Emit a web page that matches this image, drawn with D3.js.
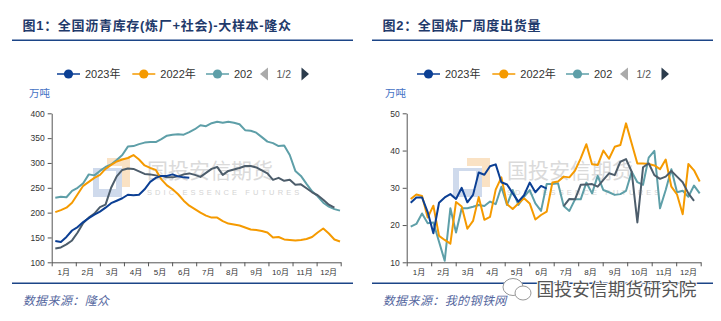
<!DOCTYPE html>
<html>
<head>
<meta charset="utf-8">
<script src="https://cdn.jsdelivr.net/npm/d3@7"></script>
<style>
  body { margin: 0; background: #fff; }
  text { font-family: "Liberation Sans", "Noto Sans CJK SC", sans-serif; }
</style>
</head>
<body>
<script>
// ---------------------------------------------------------------- data
const months = ['1月', '2月', '3月', '4月', '5月', '6月', '7月', '8月', '9月', '10月', '11月', '12月']
const legendNames = ['2023年', '2022年', '202']
const seriesColors = ['#0b3f94', '#f59a00', '#5e9fa8', '#4d5d6b']

// 图1 沥青库存 (万吨), weekly
const stockTicks = [100, 150, 200, 250, 300, 350, 400]
const stock2023 = [143, 141, 151, 164, 171, 181, 189, 196, 202, 210, 219, 224, 229, 236, 235, 236, 247, 262, 270, 274, 274, 277, 273, 271, 270]
const stock2022 = [201, 205, 210, 220, 237, 254, 262, 270, 276, 288, 296, 303, 307, 310, 316, 307, 295, 290, 286, 267,
    255, 247, 237, 224, 214, 207, 200, 194, 190, 190, 183, 178, 176, 174, 170, 166, 165, 163, 160, 150,
    151, 146, 145, 144, 145, 147, 151, 160, 168, 158, 146, 142]
const stockTeal = [230, 232, 231, 244, 250, 259, 277, 275, 284, 292, 297, 306, 316, 333, 334, 338, 341, 342, 342, 348,
    355, 357, 358, 357, 362, 368, 376, 374, 380, 383, 381, 383, 381, 378, 366, 365, 361, 352, 343, 340,
    334, 335, 316, 284, 274, 258, 243, 233, 220, 212, 207, 204]
const stockGrey = [128, 130, 136, 144, 160, 179, 190, 198, 211, 216, 250, 273, 286, 289, 288, 283, 278, 277, 275, 274,
    271, 271, 273, 277, 279, 276, 272, 280, 288, 292, 276, 284, 287, 290, 294, 294, 291, 285, 279, 266,
    270, 264, 266, 256, 257, 249, 241, 235, 226, 216, 210]

// 图2 炼厂出货量 (万吨), weekly
const shipTicks = [10, 20, 30, 40, 50]
const ship2023 = [26.0, 27.4, 27.4, 23.5, 17.8, 26.0, 27.4, 28.3, 27.0, 30.0, 26.1, 28.1, 34.1, 33.5, 35.8, 36.3, 31.5, 30.9, 28.5, 26.3,
    28.0, 31.4, 28.8, 30.5, 29.8]
const ship2022 = [27.0, 28.2, 27.8, 22.0, 25.2, 17.1, 16.0, 15.0, 26.2, 25.0, 19.0, 21.1, 27.5, 21.4, 22.2, 29.5, 32.8, 25.6, 24.3, 25.8,
    27.2, 25.8, 21.5, 22.7, 23.6, 31.4, 31.7, 33.0, 32.8, 34.6, 37.9, 41.7, 36.3, 36.1, 40.0, 37.8, 41.0, 41.5, 47.3, 41.9,
    36.5, 36.5, 36.4, 36.0, 35.0, 37.6, 30.3, 28.2, 22.9, 36.4, 34.7, 31.7]
const shipTeal = [19.6, 20.3, 23.1, 20.5, 20.7, 15.5, 10.4, 24.5, 18.0, 24.5, 24.5, 24.9, 25.4, 25.1, 26.3, 25.6, 30.3, 25.4, 29.4, 25.4,
    27.6, 29.4, 25.8, 23.8, 31.0, 31.0, 31.2, 25.1, 23.8, 26.9, 26.9, 31.4, 28.5, 33.2, 29.4, 28.8, 28.1, 28.3, 29.2, 34.3,
    31.5, 30.8, 38.1, 39.9, 24.5, 29.4, 35.0, 28.8, 29.2, 27.6, 30.6, 28.5]
const shipGreyStart = 27
const shipGrey = [25.1, 27.0, 26.9, 30.8, 30.9, 31.0, 30.3, 32.1, 33.9, 33.4, 37.0, 37.7, 34.3, 20.7, 35.5, 36.6, 33.4, 32.4, 33.0, 34.5,
    33.0, 31.5, 28.5, 26.5]

//------------------------------------------------------------------------------

const svg = d3.select("body")
    .append("svg")
    .attr("width", 721)
    .attr("height", 321)

svg.append("rect").attr("width", 721).attr("height", 321).attr("fill", "#fff")

const plotTop = 113.3, plotBottom = 262.3

function drawPanel(p) {
    const g = svg.append("g")

    // title + rules
    g.append("text")
        .attr("x", p.left + 10.5)
        .attr("y", 30)
        .attr("font-family", "Noto Sans CJK SC")
        .attr("font-weight", "bold")
        .attr("font-size", 13)
        .attr("letter-spacing", 0.7)
        .attr("fill", "#1f3a6b")
        .text(p.title)

    g.append("line")
        .attr("x1", p.left).attr("x2", p.left + 341)
        .attr("y1", 40.3).attr("y2", 40.3)
        .attr("stroke", "#1c4587").attr("stroke-width", 1.5)

    g.append("line")
        .attr("x1", p.left).attr("x2", p.left + 341)
        .attr("y1", 283.3).attr("y2", 283.3)
        .attr("stroke", "#1c4587").attr("stroke-width", 1.5)

    g.append("text")
        .attr("x", p.left + 10.7)
        .attr("y", 305)
        .attr("font-family", "Noto Sans CJK SC")
        .attr("font-style", "italic")
        .attr("font-size", 12)
        .attr("letter-spacing", 0.4)
        .attr("fill", "#5567a0")
        .text(p.source)

    // watermark
    const wm = g.append("g").attr("transform", "translate(" + p.wmX + ",0)")
    wm.append("rect").attr("x", 0).attr("y", 168).attr("width", 29).attr("height", 29).attr("fill", "#cfdaec")
    wm.append("rect").attr("x", 6).attr("y", 171).attr("width", 17).attr("height", 18).attr("fill", "#fff")
    wm.append("path").attr("d", "M14,158 H37 V187 H29 V166 H14 Z").attr("fill", "#fae2c4")
    wm.append("text")
        .attr("x", 54).attr("y", 178)
        .attr("font-family", "Noto Sans CJK SC")
        .attr("font-size", 21)
        .attr("fill", "#dadada")
        .text("国投安信期货")
    wm.append("text")
        .attr("x", 54).attr("y", 194.5)
        .attr("font-size", 7.5)
        .attr("letter-spacing", 3.1)
        .attr("fill", "#d4d4d4")
        .text("SDIC ESSENCE FUTURES")

    // scales
    const x = d3.scaleLinear().domain([0, 12]).range([p.x0, p.x1])
    const band = d3.scaleBand().domain(months).range([p.x0, p.x1])
    const week = d3.scaleLinear().domain([0, 51]).range(p.weekRange)
    const y = d3.scaleLinear().domain(p.yDomain).range([plotBottom, plotTop])

    // axes
    const yAxis = g.append("g")
        .attr("transform", "translate(" + p.x0 + ",0)")
        .call(d3.axisLeft(y).tickValues(p.ticks).tickSize(4).tickSizeOuter(0).tickPadding(3))
    yAxis.selectAll("text").attr("font-size", 8.5).attr("fill", "#333")

    g.append("g")
        .attr("transform", "translate(0," + plotBottom + ")")
        .call(d3.axisBottom(x).tickValues(d3.range(13)).tickSize(4).tickSizeOuter(0).tickFormat(""))

    const xLab = g.append("g")
        .attr("transform", "translate(0," + plotBottom + ")")
        .call(d3.axisBottom(band).tickSize(0).tickPadding(7))
    xLab.select(".domain").remove()
    xLab.selectAll("text").attr("font-size", 8).attr("fill", "#333")

    g.selectAll(".domain, .tick line").attr("stroke", "#555")

    g.append("text")
        .attr("x", p.unitX).attr("y", 97)
        .attr("font-family", "Noto Sans CJK SC")
        .attr("font-size", 10.5)
        .attr("fill", "#4472c4")
        .text("万吨")

    // legend
    const lg = g.append("g").attr("transform", "translate(" + p.left + ",74)")
    const legX = [45, 120.3, 194]
    legendNames.forEach((name, i) => {
        lg.append("line").attr("x1", legX[i]).attr("x2", legX[i] + 23)
            .attr("stroke", seriesColors[i]).attr("stroke-width", 1.5)
        lg.append("circle").attr("cx", legX[i] + 11.5).attr("r", 4.6).attr("fill", seriesColors[i])
        lg.append("text").attr("x", legX[i] + 28).attr("dy", "0.35em")
            .attr("font-size", 11).attr("fill", "#333").text(name)
    })
    lg.append("path").attr("d", "M256,-6.5 V6.5 L248,0 Z").attr("fill", "#aaa")
    lg.append("text").attr("x", 264.5).attr("dy", "0.35em").attr("font-size", 10.5).attr("fill", "#555").text("1/2")
    lg.append("path").attr("d", "M289.5,-6.5 V6.5 L297,0 Z").attr("fill", "#2b3b4c")

    // lines
    const line = d3.line()
        .x(d => week(d[0]))
        .y(d => y(d[1]))

    p.series.forEach(s => {
        g.append("path")
            .datum(s.values.map((v, i) => [i + s.start, v]))
            .attr("fill", "none")
            .attr("stroke", s.color)
            .attr("stroke-width", 2)
            .attr("stroke-linejoin", "round")
            .attr("d", line)
    })
}

drawPanel({
    left: 12,
    title: "图1：全国沥青库存(炼厂+社会)-大样本-隆众",
    source: "数据来源：隆众",
    x0: 51.7, x1: 340.7,
    weekRange: [55.3, 340],
    yDomain: [100, 400],
    ticks: stockTicks,
    unitX: 29,
    wmX: 93,
    series: [
        { values: stockTeal, start: 0, color: seriesColors[2] },
        { values: stockGrey, start: 0, color: seriesColors[3] },
        { values: stock2022, start: 0, color: seriesColors[1] },
        { values: stock2023, start: 0, color: seriesColors[0] }
    ]
})

drawPanel({
    left: 372,
    title: "图2：全国炼厂周度出货量",
    source: "数据来源：我的钢铁网",
    x0: 406.7, x1: 700.7,
    weekRange: [410.7, 699.7],
    yDomain: [10, 50],
    ticks: shipTicks,
    unitX: 385,
    wmX: 453,
    series: [
        { values: shipTeal, start: 0, color: seriesColors[2] },
        { values: ship2022, start: 0, color: seriesColors[1] },
        { values: shipGrey, start: shipGreyStart, color: seriesColors[3] },
        { values: ship2023, start: 0, color: seriesColors[0] }
    ]
})

//------------------------------------------------------------------------------
// bottom-right account watermark

const acc = svg.append("g")
acc.append("ellipse").attr("cx", 513).attr("cy", 287).attr("rx", 10).attr("ry", 8.5)
    .attr("fill", "#fff").attr("stroke", "#999").attr("stroke-width", 1)
acc.append("ellipse").attr("cx", 523).attr("cy", 293).attr("rx", 8).attr("ry", 7)
    .attr("fill", "#fff").attr("stroke", "#999").attr("stroke-width", 1)
acc.append("text")
    .attr("x", 536.5).attr("y", 295.5)
    .attr("font-family", "Noto Sans CJK SC")
    .attr("font-size", 17.8)
    .attr("fill", "#555")
    .attr("stroke", "#fff")
    .attr("stroke-width", 2)
    .attr("paint-order", "stroke")
    .text("国投安信期货研究院")
</script>
</body>
</html>
